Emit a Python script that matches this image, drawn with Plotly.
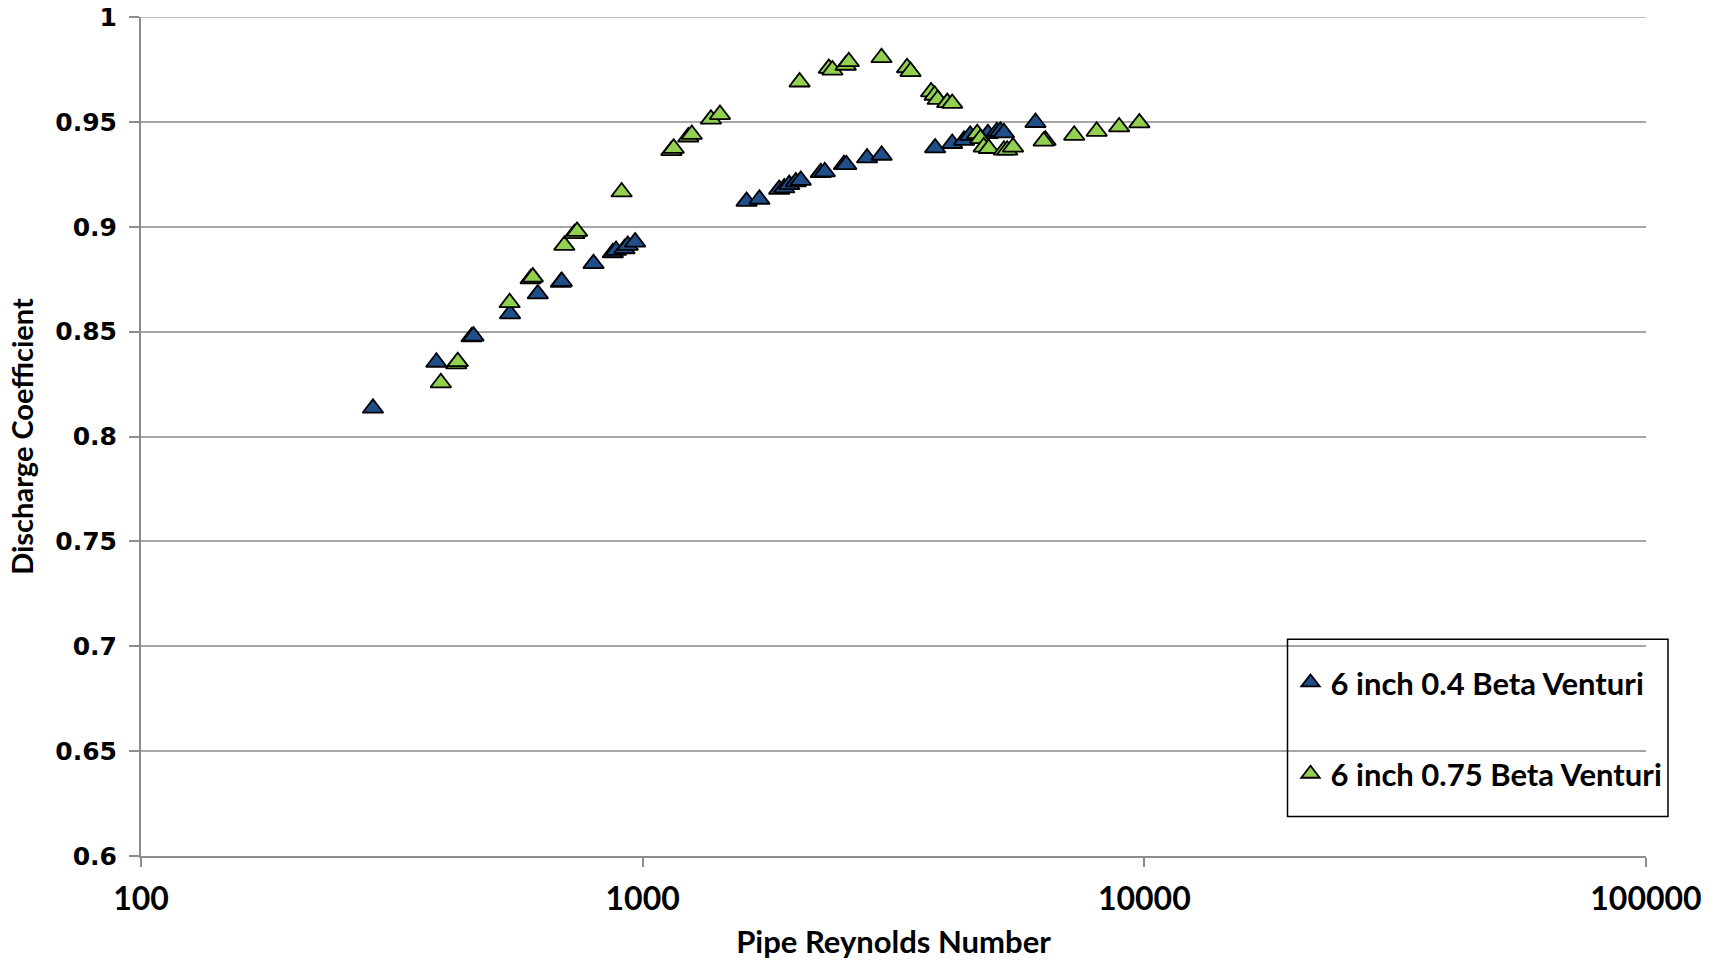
import plotly.graph_objects as go

# ---- data ----
re_04 = [290, 388, 456, 460, 544, 618, 687, 690, 798, 872, 885, 920, 934, 966,
         1611, 1709, 1871, 1915, 1960, 2020, 2066, 2265, 2307, 2519, 2546, 2801,
         2995, 3828, 4140, 4372, 4497, 4877, 5081, 5166, 5249, 6067]
cd_04 = [0.8135, 0.8354, 0.8475, 0.8479, 0.8585, 0.868, 0.8735, 0.8739, 0.8824,
         0.8876, 0.8887, 0.8895, 0.8911, 0.8927,
         0.9121, 0.9131, 0.9178, 0.9185, 0.9201, 0.9214, 0.9221, 0.9258, 0.9262,
         0.9296, 0.9296, 0.9328, 0.9341, 0.9376, 0.9397, 0.9412, 0.9436, 0.9444,
         0.9453, 0.9455, 0.9448, 0.9497]

re_075 = [396, 425, 428, 543, 598, 604, 698, 731, 740, 908, 1141, 1153, 1233,
          1253, 1368, 1426, 2055, 2350, 2389, 2540, 2576, 2993, 3365, 3420, 3758,
          3819, 3873, 4047, 4140, 4644, 4712, 4785, 4897, 5249, 5330, 5474, 6353,
          6300, 7247, 8035, 8907, 9775]
cd_075 = [0.8256, 0.8346, 0.8357, 0.8638, 0.8752, 0.876, 0.8911, 0.8967, 0.8978,
          0.9166, 0.9363, 0.9374, 0.9428, 0.944, 0.9513, 0.9535, 0.969, 0.9755,
          0.9747, 0.977, 0.9787, 0.9806, 0.9758, 0.974, 0.9643, 0.9627, 0.9607,
          0.9592, 0.9588, 0.9444, 0.942, 0.938, 0.9373, 0.9365, 0.9365, 0.938,
          0.9412, 0.9408, 0.9436, 0.9455, 0.9476, 0.9495]

series_names = ["6 inch 0.4 Beta Venturi", "6 inch 0.75 Beta Venturi"]
series_colors = ["#1F4E8A", "#92D050"]

x_tickvals = [100, 1000, 10000, 100000]
x_ticktext = ["100", "1000", "10000", "100000"]
y_tickvals = [0.6, 0.65, 0.7, 0.75, 0.8, 0.85, 0.9, 0.95, 1.0]
y_ticktext = ["0.6", "0.65", "0.7", "0.75", "0.8", "0.85", "0.9", "0.95", "1"]
y_range = [0.6, 1.0]

x_title = "Pipe Reynolds Number"
y_title = "Discharge Coefficient"

GRID = "#A6A6A6"
AXIS = "#8C8C8C"

# ---- figure ----
fig = go.Figure()
for name, xs, ys, col, grp in [
    (series_names[0], re_04, cd_04, series_colors[0], "g1"),
    (series_names[1], re_075, cd_075, series_colors[1], "g2"),
]:
    fig.add_trace(go.Scatter(
        x=xs, y=ys, mode="markers", name=name, legendgroup=grp,
        marker=dict(symbol="triangle-up", size=18, color=col,
                    line=dict(color="black", width=1.8)),
    ))

label_font = "Lato, 'Open Sans', sans-serif"

fig.update_layout(
    width=1715, height=960,
    margin=dict(l=141, r=69, t=17, b=104, autoexpand=False),
    paper_bgcolor="white", plot_bgcolor="white",
    showlegend=True,
    legend=dict(
        x=0.7638, y=0.2386, xanchor="left", yanchor="top",
        bgcolor="rgba(0,0,0,0)", borderwidth=0,
        font=dict(family=label_font, size=31, color="black", weight="bold"),
        tracegroupgap=48,
    ),
    shapes=[
        # top gridline (at the upper end of the y range)
        dict(type="line", xref="paper", yref="y", x0=0, x1=1,
             y0=y_range[1], y1=y_range[1], layer="below",
             line=dict(color=GRID, width=1.5)),
        # legend frame
        dict(type="rect", xref="paper", yref="paper",
             x0=0.7618, x1=1.0146, y0=0.0471, y1=0.2584,
             line=dict(color="black", width=1.5), fillcolor="rgba(0,0,0,0)"),
    ],
)

fig.update_xaxes(
    type="log", range=[2, 5], automargin=False,
    tickvals=x_tickvals, ticktext=x_ticktext,
    showgrid=False, zeroline=False,
    showline=True, linecolor=AXIS, linewidth=2,
    ticks="outside", ticklen=9, tickwidth=2, tickcolor=AXIS,
    tickfont=dict(family=label_font, size=32, color="black", weight="bold"),
    ticklabelstandoff=5, ticklabeloverflow="allow",
    title=dict(text=x_title, standoff=15,
               font=dict(family=label_font, size=31, color="black", weight="bold")),
)
fig.update_yaxes(
    range=y_range, automargin=False,
    tickvals=y_tickvals, ticktext=y_ticktext,
    showgrid=True, gridcolor=GRID, gridwidth=1.5, zeroline=False,
    showline=True, linecolor=AXIS, linewidth=2,
    ticks="outside", ticklen=10, tickwidth=2, tickcolor=AXIS,
    tickfont=dict(family="'DejaVu Sans', Verdana, sans-serif", size=25,
                  color="black", weight="bold"),
    ticklabelstandoff=7, ticklabeloverflow="allow",
    title=dict(text=y_title, standoff=13,
               font=dict(family=label_font, size=29, color="black", weight="bold")),
)

fig.write_html("out.html", config={"displayModeBar": False},
               post_script="document.body.style.margin='0';")
